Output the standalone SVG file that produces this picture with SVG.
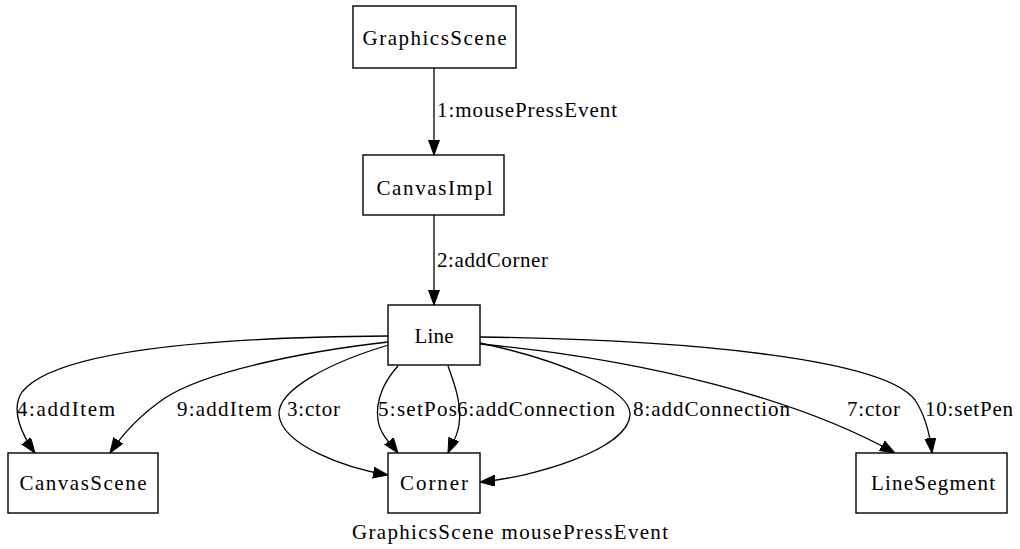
<svg xmlns="http://www.w3.org/2000/svg" width="1020" height="549" viewBox="0 0 1020 549">
  <style>
    .box { fill: #ffffff; stroke: #000000; stroke-width: 1.4; }
    .edge { fill: none; stroke: #000000; stroke-width: 1.3; marker-end: url(#head); }
    text { font-family: "Liberation Serif", "Times New Roman", serif; font-size: 21px; fill: #000000; }
    .node text { text-anchor: middle; }
  </style>
  <defs>
    <marker id="head" markerUnits="userSpaceOnUse" markerWidth="16" markerHeight="12" refX="15" refY="5.5" orient="auto">
      <path d="M0,0 L15,5.5 L0,11 z" fill="#000000" stroke="#000000" stroke-width="1"/>
    </marker>
  </defs>
  <rect x="0" y="0" width="1020" height="549" fill="#ffffff"/>

  <g id="connectors">
    <path id="e1" class="edge" d="M434,68 L434,155"/>
    <path id="e2" class="edge" d="M434,215 L434,305"/>
    <path id="e4" class="edge" d="M388,336 C250,337 60,345 22,392 C10,410 22,435 35,453"/>
    <path id="e9" class="edge" d="M388,342 C300,352 205,372 165,398 C140,415 122,435 110,453"/>
    <path id="e3" class="edge" d="M392,344 C330,362 277,390 279,415 C282,445 345,468 388,475"/>
    <path id="e5" class="edge" d="M398,366 C385,380 375,400 378,420 C380,435 392,445 398,453"/>
    <path id="e6" class="edge" d="M448,366 C455,385 462,405 459,425 C457,438 451,446 448,453"/>
    <path id="e8" class="edge" d="M480,343 C560,360 632,390 630,415 C628,450 530,478 480,482"/>
    <path id="e7" class="edge" d="M480,344 C650,360 800,400 895,453"/>
    <path id="e10" class="edge" d="M480,337 C700,340 885,360 915,400 C925,415 930,435 932,453"/>

    <text x="437" y="117" textLength="180" lengthAdjust="spacing">1:mousePressEvent</text>
    <text x="437" y="267" textLength="111" lengthAdjust="spacing">2:addCorner</text>
    <text x="17" y="416" textLength="98" lengthAdjust="spacing">4:addItem</text>
    <text x="177" y="416" textLength="95" lengthAdjust="spacing">9:addItem</text>
    <text x="287" y="416" textLength="53" lengthAdjust="spacing">3:ctor</text>
    <text x="378" y="416" textLength="79" lengthAdjust="spacing">5:setPos</text>
    <text x="457" y="416" textLength="158" lengthAdjust="spacing">6:addConnection</text>
    <text x="633" y="416" textLength="157" lengthAdjust="spacing">8:addConnection</text>
    <text x="847" y="416" textLength="53" lengthAdjust="spacing">7:ctor</text>
    <text x="925" y="416" textLength="88" lengthAdjust="spacing">10:setPen</text>
  </g>

  <g id="GraphicsScene" class="node">
    <rect class="box" x="353" y="6" width="163" height="62"/>
    <text x="434.5" y="45" textLength="144" lengthAdjust="spacing">GraphicsScene</text>
  </g>
  <g id="CanvasImpl" class="node">
    <rect class="box" x="363" y="155" width="141" height="60"/>
    <text x="434.5" y="195" textLength="116" lengthAdjust="spacing">CanvasImpl</text>
  </g>
  <g id="Line" class="node">
    <rect class="box" x="388" y="305" width="92" height="60"/>
    <text x="434" y="343" textLength="39" lengthAdjust="spacing">Line</text>
  </g>
  <g id="CanvasScene" class="node">
    <rect class="box" x="8" y="453" width="150" height="60"/>
    <text x="83" y="490" textLength="127" lengthAdjust="spacing">CanvasScene</text>
  </g>
  <g id="Corner" class="node">
    <rect class="box" x="388" y="453" width="92" height="60"/>
    <text x="434" y="490" textLength="68" lengthAdjust="spacing">Corner</text>
  </g>
  <g id="LineSegment" class="node">
    <rect class="box" x="856" y="453" width="151" height="60"/>
    <text x="933" y="490" textLength="124" lengthAdjust="spacing">LineSegment</text>
  </g>

  <text id="caption" x="510" y="539" text-anchor="middle" textLength="316" lengthAdjust="spacing">GraphicsScene mousePressEvent</text>
</svg>
